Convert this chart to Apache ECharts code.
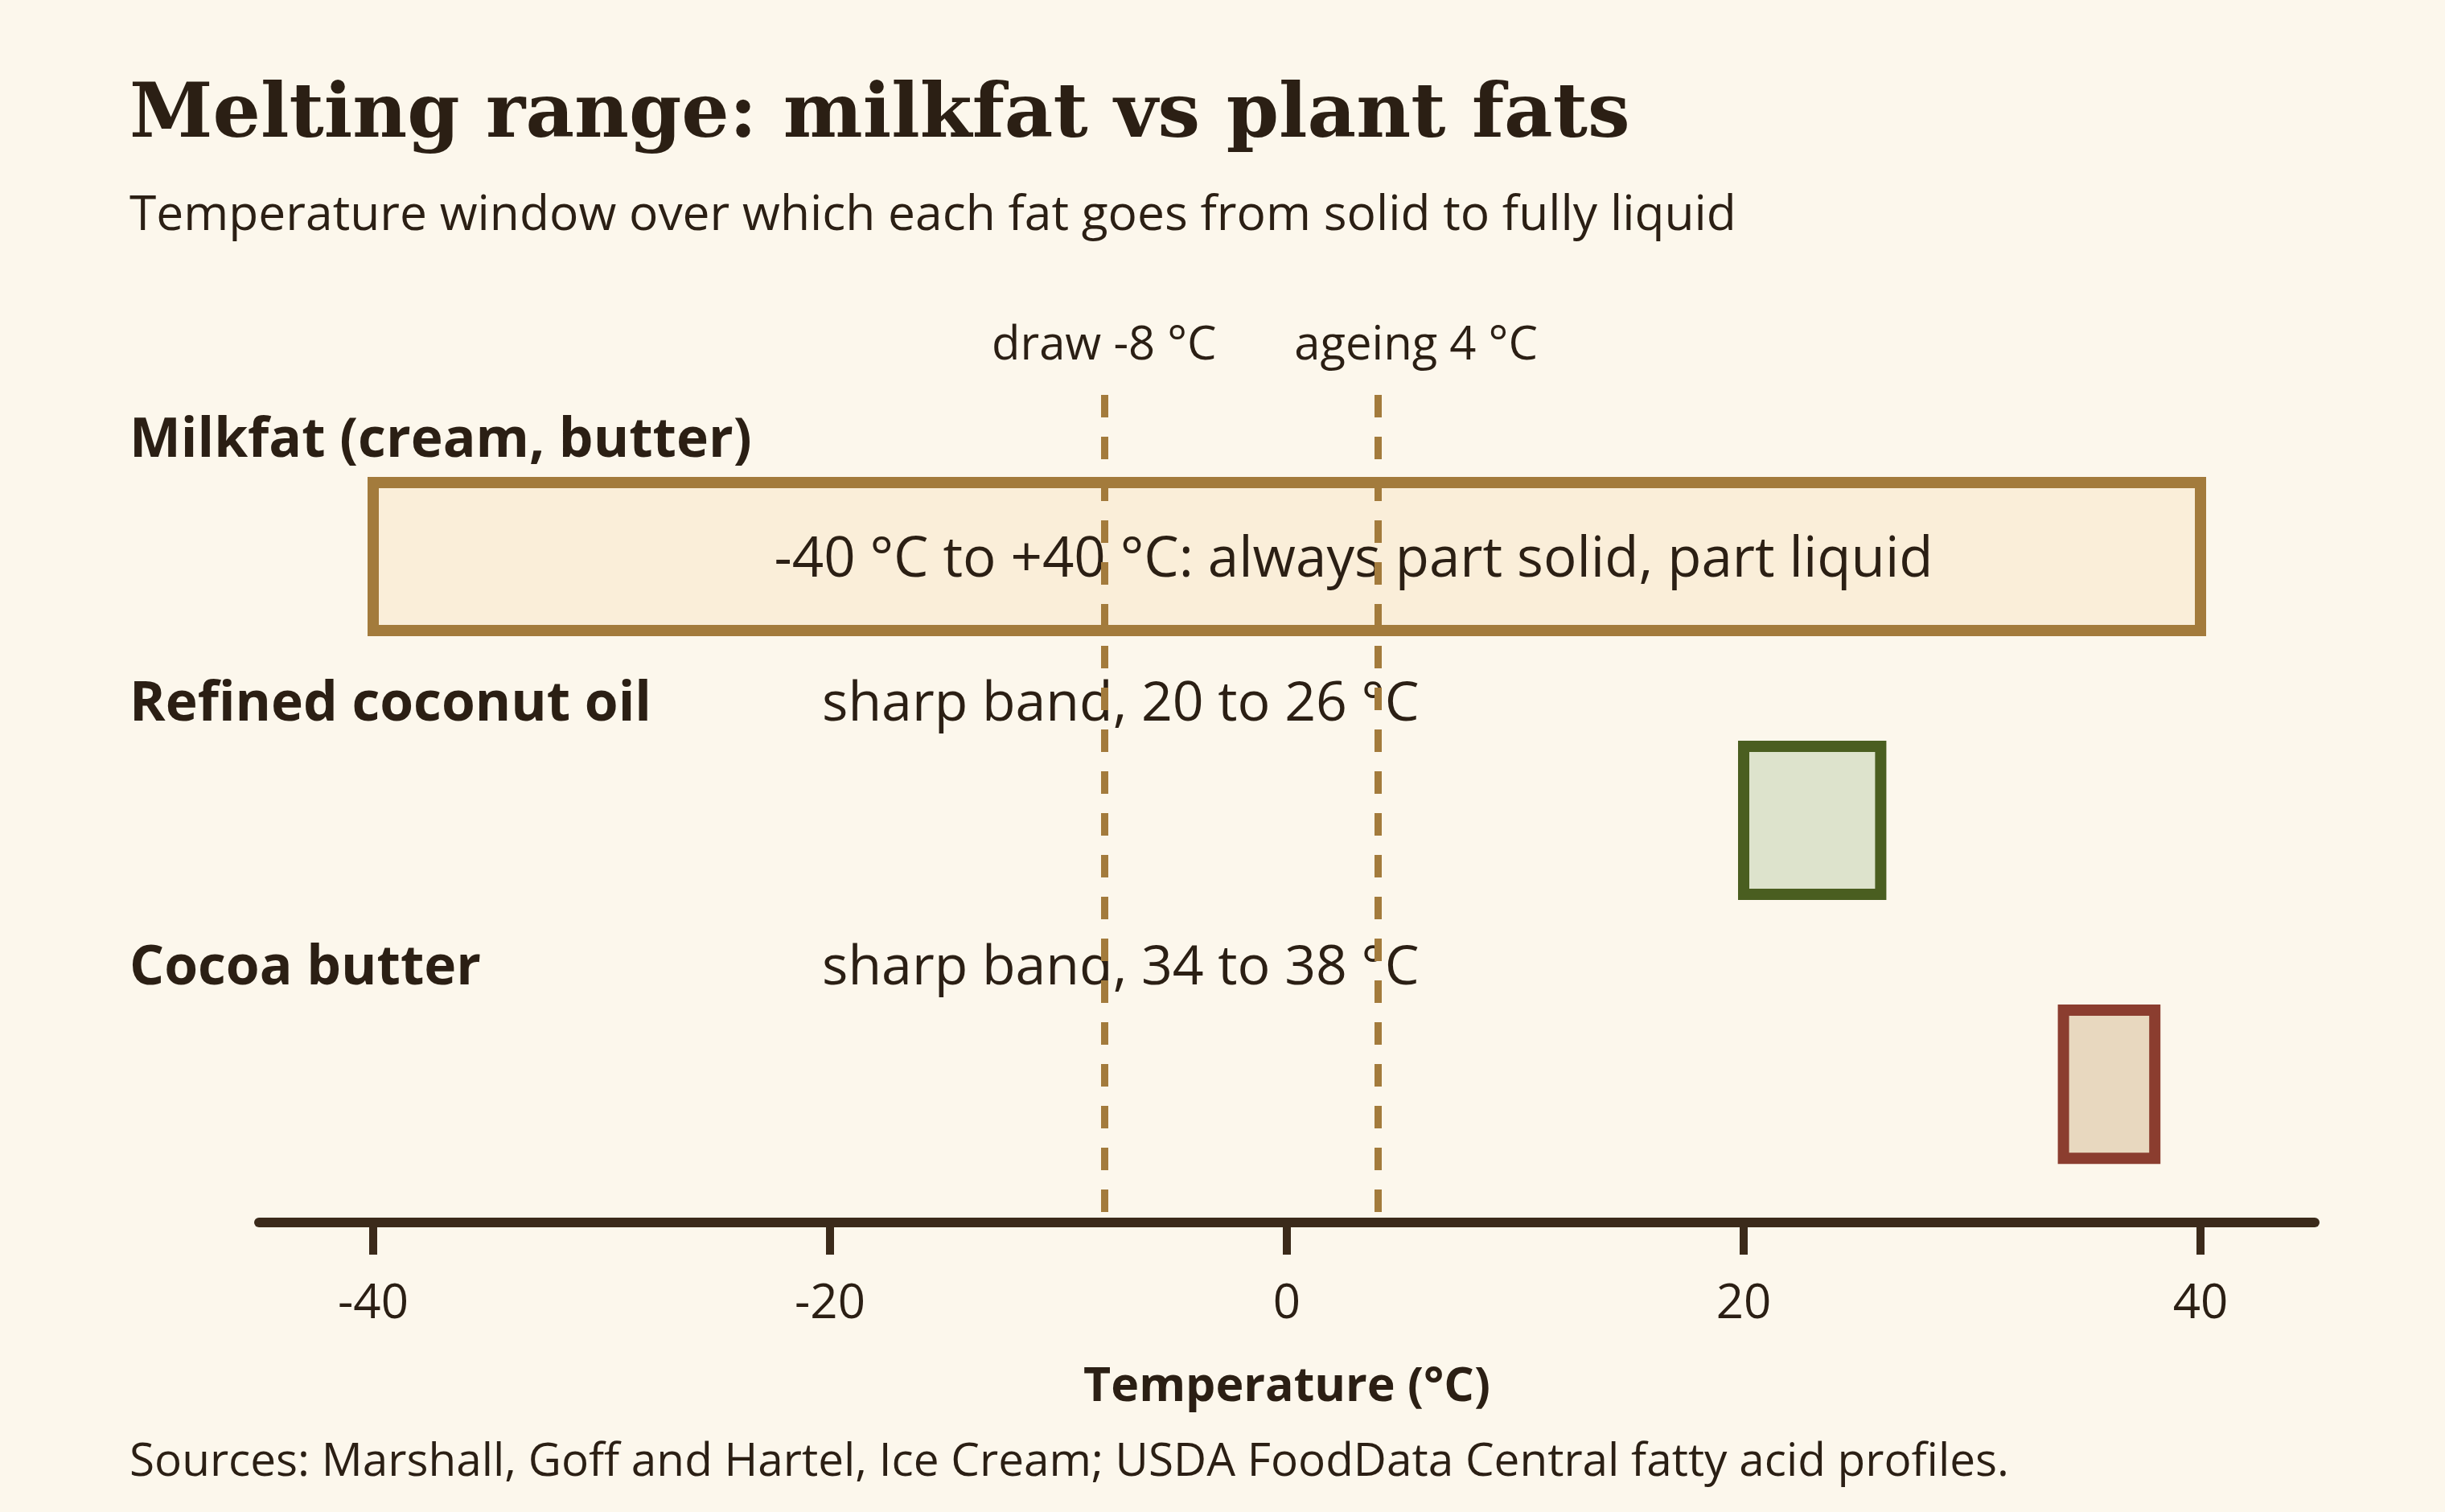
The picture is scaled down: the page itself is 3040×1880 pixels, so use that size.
<!DOCTYPE html>
<html>
<head>
<meta charset="utf-8">
<script src="https://cdn.jsdelivr.net/npm/echarts@6/dist/echarts.min.js"></script>
<style>
  html, body { margin: 0; padding: 0; background: #fcf7ec; }
  #chart { width: 3040px; height: 1880px; }
</style>
</head>
<body>
<div id="chart"></div>
<script>
// ---- data ----
const categories = ['Milkfat (cream, butter)', 'Refined coconut oil', 'Cocoa butter'];
const meltStart = [-40, 20, 34];
const meltEnd = [40, 26, 38];
const notes = [
  '-40 °C to +40 °C: always part solid, part liquid',
  'sharp band, 20 to 26 °C',
  'sharp band, 34 to 38 °C'
];
const refTemps = [-8, 4];
const refLabels = ['draw -8 °C', 'ageing 4 °C'];
const xTicks = [-40, -20, 0, 20, 40];

// ---- styles ----
const BG = '#fcf7ec';
const INK = '#2b1f14';
const AXIS = '#3b2a1a';
const GOLD = '#a37b3c';
const strokes = ['#a37b3c', '#4a5e20', '#8b3d2f'];
const fills = ['#faeed9', '#dde3cc', '#e8d8bf'];
const refLabelShift = [0, 47];
const SANS = '"Open Sans", "Noto Sans", sans-serif';
const SERIF = '"DejaVu Serif", "Liberation Serif", serif';

const rows = categories.map((c, i) => [i, meltStart[i], meltEnd[i]]);

const chart = echarts.init(document.getElementById('chart'), null, { renderer: 'canvas' });

chart.setOption({
  backgroundColor: BG,
  animation: false,
  grid: { left: 322, right: 162, top: 491, bottom: 360, containLabel: false, outerBoundsMode: 'none' },
  xAxis: {
    type: 'value', min: -45, max: 45,
    name: 'Temperature (°C)', nameLocation: 'middle', nameGap: 176,
    nameTextStyle: { fontFamily: SANS, fontWeight: 'bold', fontSize: 59, color: INK },
    axisLine: { show: true, onZero: false, lineStyle: { color: AXIS, width: 12 } },
    axisTick: { show: true, length: 40, lineStyle: { color: AXIS, width: 10 }, customValues: xTicks },
    axisLabel: { fontFamily: SANS, fontSize: 60, color: INK, margin: 72, customValues: xTicks },
    splitLine: { show: false }
  },
  yAxis: { type: 'value', inverse: true, min: -0.613, max: 2.524, show: false },
  graphic: [
    { type: 'text', left: 161, top: 99, style: { text: 'Melting range: milkfat vs plant fats', fontFamily: SERIF, fontWeight: 'bold', fontSize: 93.5, fill: INK } },
    { type: 'text', left: 161, top: 238, style: { text: 'Temperature window over which each fat goes from solid to fully liquid', fontFamily: SANS, fontSize: 60.5, fill: INK } },
    { type: 'text', left: 161, top: 1790, style: { text: 'Sources: Marshall, Goff and Hartel, Ice Cream; USDA FoodData Central fatty acid profiles.', fontFamily: SANS, fontSize: 56.7, fill: INK } }
  ],
  series: [
    {
      type: 'custom',
      data: rows,
      encode: { x: [1, 2], y: 0 },
      renderItem: function (params, api) {
        const i = api.value(0);
        const p0 = api.coord([api.value(1), i]);
        const p1 = api.coord([api.value(2), i]);
        const h = api.size([0, 0.561])[1];
        const labelY = p0[1] - 143;
        const inside = (api.value(2) - api.value(1)) > 20;
        const children = [
          { type: 'rect', shape: { x: p0[0], y: p0[1] - h / 2, width: p1[0] - p0[0], height: h },
            style: { fill: fills[i], stroke: strokes[i], lineWidth: 14 } },
          { type: 'text', x: 161, y: labelY,
            style: { text: categories[i], fontFamily: SANS, fontWeight: 'bold', fontSize: 67.7, fill: INK, align: 'left', verticalAlign: 'middle' } },
          inside
            ? { type: 'text', x: (p0[0] + p1[0]) / 2 + 83, y: p0[1] + 5,
                style: { text: notes[i], fontFamily: SANS, fontSize: 69, fill: INK, align: 'center', verticalAlign: 'middle' } }
            : { type: 'text', x: 1022, y: labelY,
                style: { text: notes[i], fontFamily: SANS, fontSize: 68, fill: INK, align: 'left', verticalAlign: 'middle' } }
        ];
        return { type: 'group', children: children };
      },
      z: 2
    },
    {
      type: 'line',
      data: [],
      z: 3,
      markLine: {
        silent: true,
        symbol: ['none', 'none'],
        lineStyle: { color: GOLD, width: 9, type: [28, 24] },
        label: {
          position: 'start', distance: 32,
          fontFamily: SANS, fontSize: 58, color: INK
        },
        data: refTemps.map((t, k) => ({
          xAxis: t,
          label: { formatter: refLabels[k], offset: [refLabelShift[k], 0] }
        }))
      }
    }
  ]
});
</script>
</body>
</html>
